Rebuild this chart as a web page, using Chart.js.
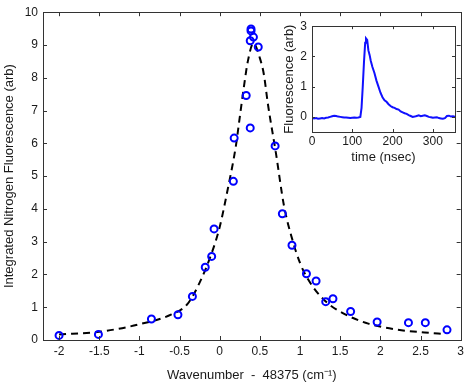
<!DOCTYPE html>
<html>
<head>
<meta charset="utf-8">
<script src="https://cdn.jsdelivr.net/npm/chart.js@4.4.0/dist/chart.umd.min.js"></script>
<style>
  html, body { margin: 0; padding: 0; background: #fff; }
  #wrap { position: relative; width: 468px; height: 386px; }
  #main { position: absolute; left: 0; top: 0; width: 468px; height: 386px; }
  #inset { position: absolute; left: 270px; top: 14px; width: 190px; height: 160px; }
</style>
</head>
<body>
<div id="wrap">
  <canvas id="main" width="468" height="386"></canvas>
  <canvas id="inset" width="190" height="160"></canvas>
</div>
<script>
// measured scan points (wavenumber offset, integrated signal)
const scanWavenumber = [-2.00, -1.51, -0.85, -0.52, -0.34, -0.18, -0.10, -0.07, 0.17, 0.18,
  0.33, 0.38, 0.38, 0.39, 0.39, 0.42, 0.48, 0.69, 0.78, 0.90,
  1.08, 1.20, 1.32, 1.41, 1.63, 1.96, 2.35, 2.56, 2.83];
const scanSignal = [0.14, 0.17, 0.64, 0.77, 1.33, 2.22, 2.55, 3.39, 4.84, 6.16,
  7.46, 6.47, 9.13, 9.49, 9.43, 9.24, 8.94, 5.92, 3.85, 2.89,
  2.02, 1.80, 1.17, 1.26, 0.87, 0.55, 0.53, 0.53, 0.31];

// dashed fit curve
const fitWavenumber = [-2.0, -1.5, -1.0, -0.6, -0.4, -0.25, -0.1, 0.0, 0.1, 0.2, 0.25, 0.3, 0.35, 0.42,
  0.5, 0.55, 0.6, 0.7, 0.8, 0.9, 1.0, 1.1, 1.3, 1.55, 1.85, 2.2, 2.55, 2.8];
const fitSignal = [0.17, 0.25, 0.48, 0.78, 1.10, 1.75, 2.65, 3.45, 4.6, 5.9, 6.8, 7.7, 8.5, 9.05,
  8.6, 8.1, 7.2, 5.7, 4.1, 3.1, 2.35, 1.85, 1.22, 0.8, 0.5, 0.32, 0.23, 0.18];

const xTicks = [-2, -1.5, -1, -0.5, 0, 0.5, 1, 1.5, 2, 2.5, 3];
const yTicks = [0, 1, 2, 3, 4, 5, 6, 7, 8, 9, 10];

// inset: time trace of the fluorescence
const traceTime = [0, 5, 10, 15, 20, 25, 30, 35, 40, 45, 50, 55, 60, 65, 70, 75, 80, 85, 90, 95,
  100, 105, 110, 115, 120, 123, 126, 129, 132, 134, 137, 140, 143, 146, 150, 155, 160, 165, 170, 175,
  180, 185, 190, 195, 200, 205, 210, 215, 220, 225, 230, 235, 240, 245, 250, 255, 260, 265, 270, 275,
  280, 285, 290, 295, 300, 305, 310, 315, 320, 325, 330, 335, 340, 345, 350, 355];
const traceSignal = [-0.03, -0.05, -0.04, -0.06, -0.05, -0.04, -0.05, -0.03, -0.02, 0.0, 0.02, 0.04, 0.03, 0.01, 0.0, -0.01, -0.02, -0.02, -0.03, -0.04,
  -0.03, -0.02, -0.03, -0.02, 0.0, 0.3, 1.0, 1.8, 2.45, 2.6, 2.55, 2.2, 2.05, 1.85, 1.65, 1.45, 1.2, 1.0, 0.8, 0.65,
  0.55, 0.5, 0.42, 0.36, 0.32, 0.3, 0.26, 0.24, 0.18, 0.15, 0.12, 0.1, 0.06, 0.03, 0.0, 0.01, 0.03, 0.05, 0.02, 0.04,
  0.05, 0.03, 0.0, -0.01, -0.03, -0.02, -0.01, -0.04, -0.05, -0.06, -0.04, 0.03, 0.04, 0.01, 0.02, 0.0];
const insetXTicks = [0, 100, 200, 300];
const insetYTicks = [0, 1, 2, 3];

const FONT = "'Liberation Sans', Arial, sans-serif";
const INK = '#1a1a1a';

// matlab style box with inward ticks on all sides
const boxTicks = {
  id: 'boxTicks',
  beforeDraw(chart, args, opts) {
    if (!opts.fill) return;
    const a = chart.chartArea;
    chart.ctx.save();
    chart.ctx.fillStyle = opts.fill;
    chart.ctx.fillRect(a.left, a.top, a.right - a.left, a.bottom - a.top);
    chart.ctx.restore();
  },
  afterDraw(chart, args, opts) {
    const { ctx, chartArea: a, scales } = chart;
    const len = opts.len || 4;
    ctx.save();
    ctx.strokeStyle = '#333';
    ctx.lineWidth = 1;
    ctx.beginPath();
    scales.x.ticks.forEach(t => {
      const px = Math.round(scales.x.getPixelForValue(t.value)) + 0.5;
      ctx.moveTo(px, a.bottom); ctx.lineTo(px, a.bottom - len);
      ctx.moveTo(px, a.top); ctx.lineTo(px, a.top + len);
    });
    scales.y.ticks.forEach(t => {
      const py = Math.round(scales.y.getPixelForValue(t.value)) + 0.5;
      ctx.moveTo(a.left, py); ctx.lineTo(a.left + len, py);
      ctx.moveTo(a.right, py); ctx.lineTo(a.right - len, py);
    });
    ctx.stroke();
    ctx.strokeRect(Math.round(a.left) + 0.5, Math.round(a.top) + 0.5,
      Math.round(a.right - a.left), Math.round(a.bottom - a.top));
    ctx.restore();
  }
};

function fixedTicks(list) {
  return function(scale) { scale.ticks = list.map(v => ({ value: v })); };
}

new Chart(document.getElementById('main'), {
  type: 'scatter',
  data: {
    datasets: [{
      label: 'scan',
      data: scanWavenumber.map((x, i) => ({ x: x, y: scanSignal[i] })),
      pointStyle: 'circle',
      pointRadius: 3.5,
      pointBorderWidth: 2,
      pointBorderColor: '#0000ff',
      pointBackgroundColor: 'rgba(0,0,0,0)',
      showLine: false
    }, {
      label: 'fit',
      data: fitWavenumber.map((x, i) => ({ x: x, y: fitSignal[i] })),
      showLine: true,
      borderColor: '#000',
      borderWidth: 2,
      borderDash: [7, 5],
      pointRadius: 0,
      cubicInterpolationMode: 'monotone'
    }]
  },
  options: {
    responsive: false,
    animation: false,
    layout: { padding: { top: 8, right: 6, left: 0, bottom: 0 } },
    scales: {
      x: {
        type: 'linear', min: -2.2, max: 3,
        afterBuildTicks: fixedTicks(xTicks),
        afterFit(scale) { scale.height = 46; },
        grid: { display: false, drawTicks: false },
        border: { display: false },
        ticks: { color: INK, padding: 4, font: { family: FONT, size: 12 }, callback: v => String(v) },
        title: { display: true, text: 'Wavenumber  -  48375 (cm\u207B\u00B9)', color: INK,
          font: { family: FONT, size: 13 }, padding: { top: 0, bottom: 3 } }
      },
      y: {
        min: 0, max: 10,
        afterBuildTicks: fixedTicks(yTicks),
        afterFit(scale) { scale.width = 43; },
        grid: { display: false, drawTicks: false },
        border: { display: false },
        ticks: { color: INK, padding: 5, font: { family: FONT, size: 12 } },
        title: { display: true, text: 'Integrated Nitrogen Fluorescence (arb)', color: INK,
          font: { family: FONT, size: 13 }, padding: { top: 2, bottom: 0 } }
      }
    },
    plugins: {
      legend: { display: false },
      tooltip: { enabled: false },
      boxTicks: { len: 4 }
    }
  },
  plugins: [boxTicks]
});

new Chart(document.getElementById('inset'), {
  type: 'scatter',
  data: {
    datasets: [{
      label: 'trace',
      data: traceTime.map((t, i) => ({ x: t, y: traceSignal[i] })),
      showLine: true,
      borderColor: '#1010ff',
      borderWidth: 2,
      pointRadius: 0,
      tension: 0
    }]
  },
  options: {
    responsive: false,
    animation: false,
    layout: { padding: { top: 8, right: 5, left: 0, bottom: 0 } },
    scales: {
      x: {
        type: 'linear', min: 0, max: 355,
        afterBuildTicks: fixedTicks(insetXTicks),
        afterFit(scale) { scale.height = 42; },
        grid: { display: false, drawTicks: false },
        border: { display: false },
        ticks: { color: INK, padding: 2, font: { family: FONT, size: 12 } },
        title: { display: true, text: 'time (nsec)', color: INK,
          font: { family: FONT, size: 13 }, padding: { top: 0, bottom: 9 } }
      },
      y: {
        min: -0.5, max: 3,
        afterBuildTicks: fixedTicks(insetYTicks),
        afterFit(scale) { scale.width = 42; },
        grid: { display: false, drawTicks: false },
        border: { display: false },
        ticks: { color: INK, padding: 5, font: { family: FONT, size: 12 } },
        title: { display: true, text: 'Fluorescence (arb)', color: INK,
          font: { family: FONT, size: 13 }, padding: { top: 12, bottom: 0 } }
      }
    },
    plugins: {
      legend: { display: false },
      tooltip: { enabled: false },
      boxTicks: { len: 3, fill: '#fff' }
    }
  },
  plugins: [boxTicks]
});
</script>
</body>
</html>
